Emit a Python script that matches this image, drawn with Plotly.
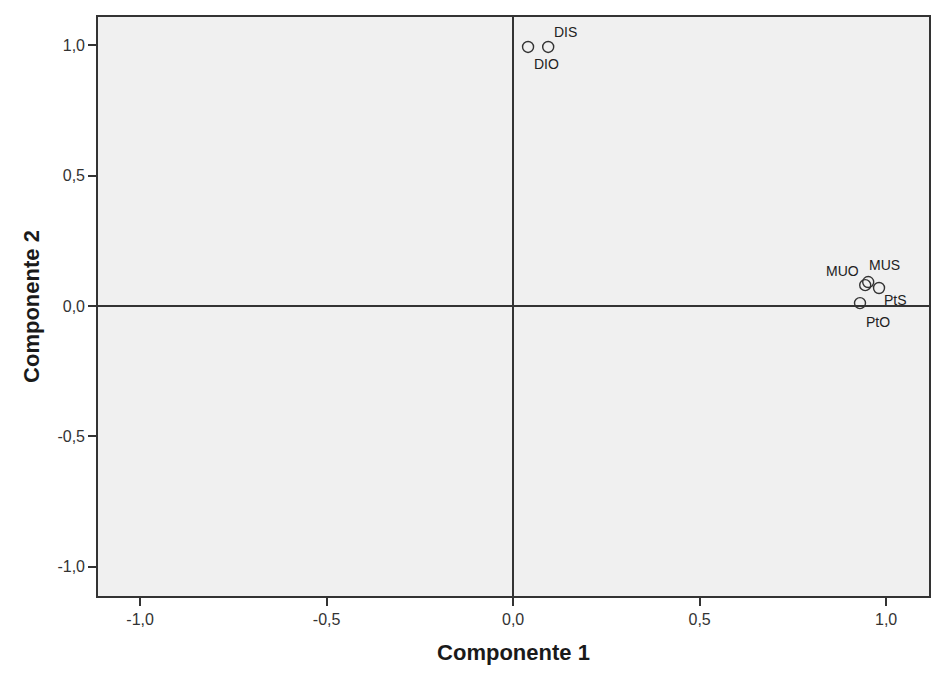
import plotly.graph_objects as go

labels = ["DIO", "DIS", "MUO", "MUS", "PtS", "PtO"]
comp1 = [0.040, 0.094, 0.944, 0.952, 0.981, 0.930]
comp2 = [0.994, 0.994, 0.080, 0.092, 0.069, 0.011]
label_shift_x = [18, 17, -23, 16, 16, 18]
label_shift_y = [-17, 15, 14, 17, -12, -19]

tick_vals = [-1.0, -0.5, 0.0, 0.5, 1.0]
tick_text = ["-1,0", "-0,5", "0,0", "0,5", "1,0"]

FONT = "Liberation Sans, Arial"

fig = go.Figure()
fig.add_trace(go.Scatter(
    x=comp1, y=comp2, mode="markers",
    marker=dict(symbol="circle-open", size=11, color="#333333", line=dict(width=1.4)),
    hovertext=labels, showlegend=False,
))

for lab, x, y, dx, dy in zip(labels, comp1, comp2, label_shift_x, label_shift_y):
    fig.add_annotation(x=x, y=y, text=lab, showarrow=False, xshift=dx, yshift=dy,
                       font=dict(family=FONT, size=14, color="#222222"))

axis_common = dict(
    tickvals=tick_vals, ticktext=tick_text, ticks="outside", ticklen=8, tickwidth=1.6,
    tickcolor="#333333", showgrid=False, zeroline=True, zerolinecolor="#333333",
    zerolinewidth=1.8, showline=True, linecolor="#333333", linewidth=1.6, mirror=True,
    tickfont=dict(family=FONT, size=16, color="#333333"),
)

fig.update_layout(
    width=942, height=686,
    margin=dict(l=90, r=21, t=7, b=98),
    paper_bgcolor="white", plot_bgcolor="#f0f0f0",
    xaxis=dict(range=[-1.113, 1.115], title=dict(text="<b>Componente 1</b>", standoff=18,
               font=dict(family=FONT, size=22, color="#1a1a1a")), **axis_common),
    yaxis=dict(range=[-1.113, 1.109], title=dict(text="<b>Componente 2</b>", standoff=12,
               font=dict(family=FONT, size=22, color="#1a1a1a")), **axis_common),
)

fig.write_html("out.html")
